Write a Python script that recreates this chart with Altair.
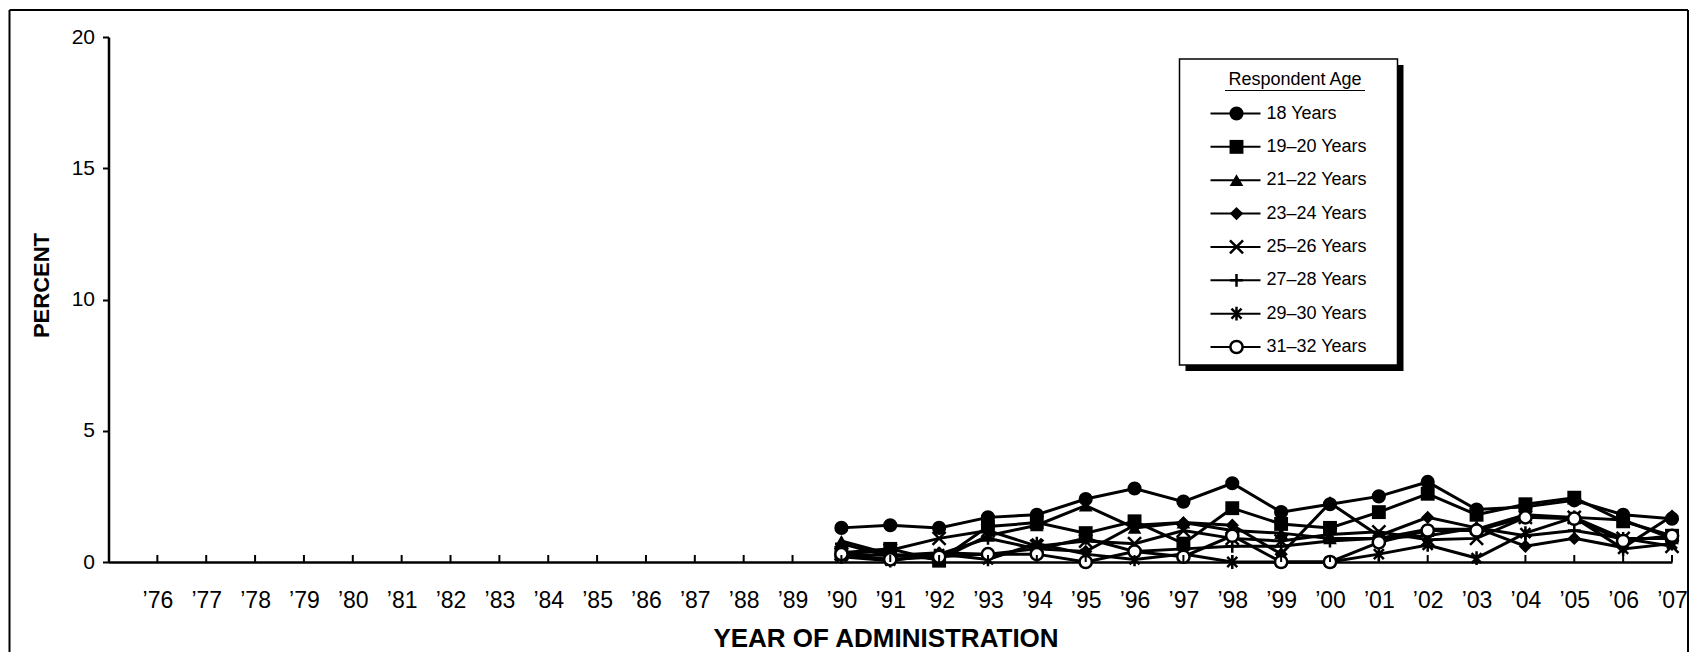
import altair as alt
import pandas as pd

years = list(range(1990, 2008))
tick_years = list(range(1976, 2008))
series = ["18 Years", "19–20 Years", "21–22 Years", "23–24 Years",
          "25–26 Years", "27–28 Years", "29–30 Years", "31–32 Years"]

s18   = [1.3, 1.4, 1.3, 1.7, 1.8, 2.4, 2.8, 2.3, 3.0, 1.9, 2.2, 2.5, 3.05, 2.0, 2.1, 2.35, 1.8, 1.65]
s1920 = [0.35, 0.5, 0.05, 1.35, 1.5, 1.1, 1.55, 0.7, 2.05, 1.45, 1.3, 1.9, 2.6, 1.8, 2.2, 2.45, 1.55, 1.0]
s2122 = [0.8, 0.3, 0.1, 1.0, 1.4, 2.15, 1.3, 1.5, 1.2, 1.1, 0.9, 0.9, 1.25, 1.25, 1.8, 1.7, 1.6, 0.9]
s2324 = [0.3, 0.25, 0.35, 0.3, 0.5, 0.4, 1.4, 1.5, 1.4, 0.3, 2.25, 1.0, 1.7, 1.3, 0.6, 0.9, 0.55, 1.75]
s2526 = [0.3, 0.45, 0.9, 1.2, 0.6, 0.8, 0.7, 1.2, 0.9, 0.8, 1.05, 1.15, 0.85, 0.9, 1.7, 1.7, 0.9, 0.6]
s2728 = [0.7, 0.2, 0.3, 0.9, 0.5, 0.9, 0.4, 0.5, 0.6, 0.6, 0.8, 0.9, 1.0, 1.3, 1.0, 1.2, 0.9, 0.9]
s2930 = [0.2, 0.05, 0.3, 0.1, 0.7, 0.3, 0.1, 0.3, 0.0, 0.0, 0.0, 0.3, 0.65, 0.15, 1.1, 1.7, 0.5, 0.7]
s3132 = [0.3, 0.1, 0.2, 0.3, 0.3, 0.0, 0.4, 0.2, 1.0, 0.0, 0.0, 0.75, 1.2, 1.2, 1.7, 1.65, 0.8, 1.0]
values = [s18, s1920, s2122, s2324, s2526, s2728, s2930, s3132]

legend_title = "Respondent Age"
x_title = "YEAR OF ADMINISTRATION"
y_title = "PERCENT"

rows = []
for name, vals in zip(series, values):
    for yr, v in zip(years, vals):
        rows.append({"year": yr, "pct": v, "series": name})
df = pd.DataFrame(rows)
legend_df = pd.DataFrame({"series": series})
ticks_df = pd.DataFrame({"year": tick_years})
title_df = pd.DataFrame({"t": [legend_title]})
one_df = pd.DataFrame({"k": [0]})

W, H = 1563.5, 525
PAD = {"left": 100.5, "top": 29, "right": 18, "bottom": 90}
FONT = "Liberation Sans, Arial, sans-serif"

X_PATH = "M-1,-1L1,1M-1,1L1,-1"
PLUS_PATH = "M0,-1L0,1M-1,0L1,0"
STAR_PATH = "M-0.8,-0.8L0.8,0.8M-0.8,0.8L0.8,-0.8M0,-1.1L0,1.1"
shape_scale = alt.Scale(domain=series, range=["circle", "square", "triangle-up", "diamond",
                                               X_PATH, PLUS_PATH, STAR_PATH, "circle"])
size_scale = alt.Scale(domain=series, range=[200, 150, 160, 200, 140, 160, 160, 100])

xs = alt.Scale(domain=[1975, 2007], nice=False, zero=False)
ys = alt.Scale(domain=[0, 20], nice=False)

X = alt.X("year:Q", scale=xs, axis=alt.Axis(
    values=tick_years, labelExpr="'’' + substring(toString(datum.value), 2, 4)",
    ticks=False, grid=False, domainColor="black", domainWidth=2.5,
    labelFont=FONT, labelFontSize=23, labelColor="black", labelPadding=27,
    labelOverlap=False, labelFlush=False,
    title=x_title, titleFont=FONT, titleFontSize=26, titleFontWeight="bold",
    titleColor="black", titleX=777, titleY=76, titleBaseline="middle", titleAlign="center"))
Y = alt.Y("pct:Q", scale=ys, axis=alt.Axis(
    values=[0, 5, 10, 15, 20], grid=False, domainColor="black", domainWidth=2.5,
    tickColor="black", tickSize=6, tickWidth=2,
    labelFont=FONT, labelFontSize=21, labelColor="black", labelPadding=8,
    title=y_title, titleFont=FONT, titleFontSize=22, titleFontWeight="bold",
    titleColor="black", titleAngle=270, titleX=-67, titleY=248,
    titleBaseline="middle", titleAlign="center"))

base = alt.Chart(df)

lines = base.mark_line(color="black", strokeWidth=3).encode(x=X, y=Y, detail="series:N")

filled = base.transform_filter(
    alt.FieldOneOfPredicate(field="series", oneOf=series[:4])
).mark_point(filled=True, color="black", opacity=1).encode(
    x=X, y=Y,
    shape=alt.Shape("series:N", scale=shape_scale, legend=None),
    size=alt.Size("series:N", scale=size_scale, legend=None))

stroked = base.transform_filter(
    alt.FieldOneOfPredicate(field="series", oneOf=series[4:7])
).mark_point(filled=False, color="black", strokeWidth=2.5, opacity=1).encode(
    x=X, y=Y,
    shape=alt.Shape("series:N", scale=shape_scale, legend=None),
    size=alt.Size("series:N", scale=size_scale, legend=None))

opencirc = base.transform_filter(
    alt.FieldEqualPredicate(field="series", equal=series[7])
).mark_point(filled=False, fill="white", fillOpacity=1, stroke="black", strokeWidth=2.5, opacity=1).encode(
    x=X, y=Y,
    shape=alt.Shape("series:N", scale=shape_scale, legend=None),
    size=alt.Size("series:N", scale=size_scale, legend=None))

xticks = alt.Chart(ticks_df).mark_rule(color="black", strokeWidth=2).encode(
    x=alt.X("year:Q", scale=xs), y=alt.value(H), y2=alt.value(H - 7))

# frame around the whole figure (left, top, right edges)
FL, FR, FT, FB = -99, W + 16, -27, H + PAD["bottom"] + 5
frame_left = alt.Chart(one_df).mark_rule(color="black", strokeWidth=2).encode(
    x=alt.value(FL), y=alt.value(FT), y2=alt.value(FB))
frame_right = alt.Chart(one_df).mark_rule(color="black", strokeWidth=2).encode(
    x=alt.value(FR), y=alt.value(FT), y2=alt.value(FB))
frame_top = alt.Chart(one_df).mark_rule(color="black", strokeWidth=2).encode(
    x=alt.value(FL), x2=alt.value(FR), y=alt.value(FT))

# legend box
LX0, LX1, LY0, LY1 = 1071, 1289, 22, 328
shadow = alt.Chart(one_df).mark_rect(fill="black").encode(
    x=alt.value(LX0 + 6), x2=alt.value(LX1 + 6), y=alt.value(LY0 + 6), y2=alt.value(LY1 + 6))
box = alt.Chart(one_df).mark_rect(fill="white", stroke="black", strokeWidth=1.5).encode(
    x=alt.value(LX0), x2=alt.value(LX1), y=alt.value(LY0), y2=alt.value(LY1))
ltitle = alt.Chart(title_df).mark_text(font=FONT, fontSize=18, align="center", baseline="middle",
                                       color="black").encode(
    x=alt.value(1186.5), y=alt.value(43), text="t:N")
lunder = alt.Chart(one_df).mark_rule(color="black", strokeWidth=1.2).encode(
    x=alt.value(1186.5 - 70), x2=alt.value(1186.5 + 70), y=alt.value(53.5))

LY = alt.Y("series:N", scale=alt.Scale(type="point", domain=series, range=[76.5, 310], padding=0),
           axis=None)
lrule = alt.Chart(legend_df).mark_rule(color="black", strokeWidth=2).encode(
    x=alt.value(1102), x2=alt.value(1152), y=LY)
lfilled = alt.Chart(legend_df).transform_filter(
    alt.FieldOneOfPredicate(field="series", oneOf=series[:4])
).mark_point(filled=True, color="black", opacity=1).encode(
    x=alt.value(1128), y=LY,
    shape=alt.Shape("series:N", scale=shape_scale, legend=None),
    size=alt.Size("series:N", scale=size_scale, legend=None))
lstroked = alt.Chart(legend_df).transform_filter(
    alt.FieldOneOfPredicate(field="series", oneOf=series[4:7])
).mark_point(filled=False, color="black", strokeWidth=2.5, opacity=1).encode(
    x=alt.value(1128), y=LY,
    shape=alt.Shape("series:N", scale=shape_scale, legend=None),
    size=alt.Size("series:N", scale=size_scale, legend=None))
lopen = alt.Chart(legend_df).transform_filter(
    alt.FieldEqualPredicate(field="series", equal=series[7])
).mark_point(filled=False, fill="white", fillOpacity=1, stroke="black", strokeWidth=2.5, opacity=1).encode(
    x=alt.value(1128), y=LY,
    shape=alt.Shape("series:N", scale=shape_scale, legend=None),
    size=alt.Size("series:N", scale=size_scale, legend=None))
ltext = alt.Chart(legend_df).mark_text(font=FONT, fontSize=18, align="left", baseline="middle",
                                       color="black").encode(
    x=alt.value(1158), y=LY, text="series:N")

frame = alt.layer(frame_left, frame_right, frame_top)
main = alt.layer(lines, filled, stroked, opencirc, xticks)
legend = alt.layer(shadow, box, ltitle, lunder, lrule, lfilled, lstroked, lopen, ltext)

chart = alt.layer(frame, main, legend).resolve_scale(y="independent").properties(
    width=W, height=H,
    autosize=alt.AutoSizeParams(type="none"),
    padding=PAD,
    background="white",
).configure_view(stroke=None)

chart.save("out.html", embed_options={"renderer": "svg", "actions": False})
